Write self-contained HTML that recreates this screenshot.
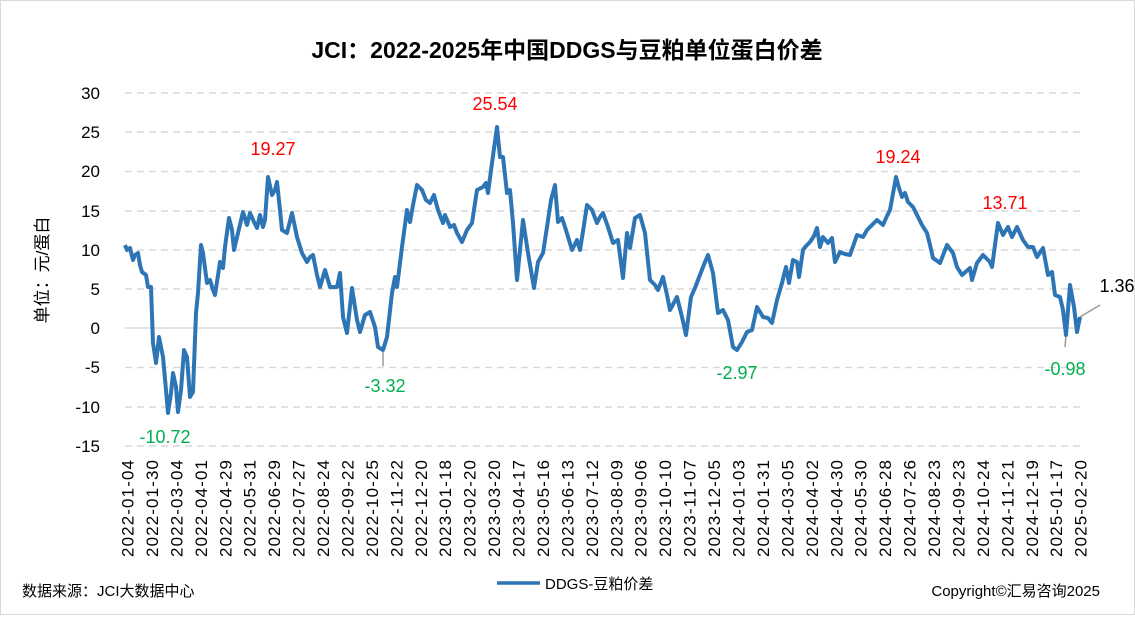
<!DOCTYPE html>
<html><head><meta charset="utf-8"><style>
body{margin:0;background:#fff}
svg text{font-family:"Liberation Sans","Noto Sans CJK SC",sans-serif}
</style></head><body>
<svg width="1135" height="615" viewBox="0 0 1135 615" xmlns="http://www.w3.org/2000/svg">
<rect x="0.5" y="0.5" width="1134" height="614" fill="#fff" stroke="#d9d9d9"/>
<text x="567" y="58" text-anchor="middle" font-size="23" font-weight="bold" fill="#000">JCI：2022-2025年中国DDGS与豆粕单位蛋白价差</text>
<g stroke="#d9d9d9" stroke-width="1.5" stroke-dasharray="7,5">
<line x1="125" y1="93" x2="1080" y2="93"/><line x1="125" y1="132" x2="1080" y2="132"/>
<line x1="125" y1="171.5" x2="1080" y2="171.5"/><line x1="125" y1="211" x2="1080" y2="211"/>
<line x1="125" y1="250" x2="1080" y2="250"/><line x1="125" y1="289" x2="1080" y2="289"/>
<line x1="125" y1="367.5" x2="1080" y2="367.5"/><line x1="125" y1="407" x2="1080" y2="407"/>
<line x1="125" y1="446" x2="1080" y2="446"/>
</g>
<line x1="125" y1="328" x2="1080" y2="328" stroke="#d9d9d9" stroke-width="1.5"/>
<g font-size="17" fill="#000" text-anchor="end">
<text x="100" y="99">30</text><text x="100" y="138">25</text><text x="100" y="177">20</text><text x="100" y="217">15</text><text x="100" y="256">10</text><text x="100" y="295">5</text><text x="100" y="334">0</text><text x="100" y="373">-5</text><text x="100" y="413">-10</text><text x="100" y="452">-15</text>
</g>
<text transform="translate(48,270) rotate(-90)" text-anchor="middle" font-size="17">单位：元/蛋白</text>
<g font-size="17" fill="#000" text-anchor="end">
<text transform="translate(133.5,460) rotate(-90)" textLength="97" lengthAdjust="spacing">2022-01-04</text>
<text transform="translate(157.9,460) rotate(-90)" textLength="97" lengthAdjust="spacing">2022-01-30</text>
<text transform="translate(182.4,460) rotate(-90)" textLength="97" lengthAdjust="spacing">2022-03-04</text>
<text transform="translate(206.8,460) rotate(-90)" textLength="97" lengthAdjust="spacing">2022-04-01</text>
<text transform="translate(231.3,460) rotate(-90)" textLength="97" lengthAdjust="spacing">2022-04-29</text>
<text transform="translate(255.7,460) rotate(-90)" textLength="97" lengthAdjust="spacing">2022-05-31</text>
<text transform="translate(280.1,460) rotate(-90)" textLength="97" lengthAdjust="spacing">2022-06-29</text>
<text transform="translate(304.6,460) rotate(-90)" textLength="97" lengthAdjust="spacing">2022-07-27</text>
<text transform="translate(329.0,460) rotate(-90)" textLength="97" lengthAdjust="spacing">2022-08-24</text>
<text transform="translate(353.5,460) rotate(-90)" textLength="97" lengthAdjust="spacing">2022-09-22</text>
<text transform="translate(377.9,460) rotate(-90)" textLength="97" lengthAdjust="spacing">2022-10-25</text>
<text transform="translate(402.3,460) rotate(-90)" textLength="97" lengthAdjust="spacing">2022-11-22</text>
<text transform="translate(426.8,460) rotate(-90)" textLength="97" lengthAdjust="spacing">2022-12-20</text>
<text transform="translate(451.2,460) rotate(-90)" textLength="97" lengthAdjust="spacing">2023-01-18</text>
<text transform="translate(475.7,460) rotate(-90)" textLength="97" lengthAdjust="spacing">2023-02-20</text>
<text transform="translate(500.1,460) rotate(-90)" textLength="97" lengthAdjust="spacing">2023-03-20</text>
<text transform="translate(524.5,460) rotate(-90)" textLength="97" lengthAdjust="spacing">2023-04-17</text>
<text transform="translate(549.0,460) rotate(-90)" textLength="97" lengthAdjust="spacing">2023-05-16</text>
<text transform="translate(573.4,460) rotate(-90)" textLength="97" lengthAdjust="spacing">2023-06-13</text>
<text transform="translate(597.9,460) rotate(-90)" textLength="97" lengthAdjust="spacing">2023-07-12</text>
<text transform="translate(622.3,460) rotate(-90)" textLength="97" lengthAdjust="spacing">2023-08-09</text>
<text transform="translate(646.7,460) rotate(-90)" textLength="97" lengthAdjust="spacing">2023-09-06</text>
<text transform="translate(671.2,460) rotate(-90)" textLength="97" lengthAdjust="spacing">2023-10-10</text>
<text transform="translate(695.6,460) rotate(-90)" textLength="97" lengthAdjust="spacing">2023-11-07</text>
<text transform="translate(720.1,460) rotate(-90)" textLength="97" lengthAdjust="spacing">2023-12-05</text>
<text transform="translate(744.5,460) rotate(-90)" textLength="97" lengthAdjust="spacing">2024-01-03</text>
<text transform="translate(768.9,460) rotate(-90)" textLength="97" lengthAdjust="spacing">2024-01-31</text>
<text transform="translate(793.4,460) rotate(-90)" textLength="97" lengthAdjust="spacing">2024-03-05</text>
<text transform="translate(817.8,460) rotate(-90)" textLength="97" lengthAdjust="spacing">2024-04-02</text>
<text transform="translate(842.3,460) rotate(-90)" textLength="97" lengthAdjust="spacing">2024-04-30</text>
<text transform="translate(866.7,460) rotate(-90)" textLength="97" lengthAdjust="spacing">2024-05-30</text>
<text transform="translate(891.1,460) rotate(-90)" textLength="97" lengthAdjust="spacing">2024-06-28</text>
<text transform="translate(915.6,460) rotate(-90)" textLength="97" lengthAdjust="spacing">2024-07-26</text>
<text transform="translate(940.0,460) rotate(-90)" textLength="97" lengthAdjust="spacing">2024-08-23</text>
<text transform="translate(964.5,460) rotate(-90)" textLength="97" lengthAdjust="spacing">2024-09-23</text>
<text transform="translate(988.9,460) rotate(-90)" textLength="97" lengthAdjust="spacing">2024-10-24</text>
<text transform="translate(1013.3,460) rotate(-90)" textLength="97" lengthAdjust="spacing">2024-11-21</text>
<text transform="translate(1037.8,460) rotate(-90)" textLength="97" lengthAdjust="spacing">2024-12-19</text>
<text transform="translate(1062.2,460) rotate(-90)" textLength="97" lengthAdjust="spacing">2025-01-17</text>
<text transform="translate(1086.5,460) rotate(-90)" textLength="97" lengthAdjust="spacing">2025-02-20</text>
</g>
<g stroke="#999" stroke-width="1.5" fill="none">
<line x1="383" y1="350" x2="383" y2="366"/><line x1="1066" y1="335" x2="1065" y2="347"/><line x1="1080" y1="317" x2="1100" y2="305"/>
</g>
<polyline fill="none" stroke="#2e75b6" stroke-width="4" stroke-linejoin="round" points="125,245 127,250 130,248 133,260 135,255 138,253 140,265 142,272 146,275 148,287 151,287 153,343 156,363 159,337 163,357 166,390 168,413 171,393 173,373 176,387 178,412 181,390 184,350 187,357 190,397 193,392 196,313 198,293 201,245 203,253 207,283 210,280 213,290 215,295 220,262 223,268 225,247 229,218 232,230 234,250 238,233 243,212 247,225 250,213 254,222 257,228 260,215 263,227 265,220 268,177 272,195 275,190 277,182 280,210 282,230 287,233 292,213 297,237 302,253 307,262 310,257 313,255 317,275 320,287 325,270 330,287 337,287 340,273 343,317 347,333 352,288 357,320 360,332 365,315 370,312 375,327 378,347 383,350 387,337 392,293 395,277 397,287 402,247 407,210 410,222 413,205 417,185 422,190 426,200 430,203 434,195 438,210 443,223 445,215 450,227 454,225 457,233 462,242 467,230 472,223 477,190 483,187 486,183 488,193 492,163 497,127 500,157 503,157 507,193 510,190 513,223 517,280 523,220 528,253 534,288 538,262 543,253 547,227 551,200 555,185 558,222 562,218 565,227 569,240 572,250 577,240 580,250 584,225 587,205 592,210 597,223 600,217 603,213 608,227 613,243 618,240 623,278 627,233 630,248 635,218 640,215 645,233 650,280 655,285 658,290 663,277 667,295 670,310 677,297 682,317 686,335 691,297 695,288 698,280 705,262 708,255 713,273 718,313 723,310 728,320 733,347 737,350 742,342 747,332 752,330 757,307 760,312 763,317 768,318 772,323 777,300 782,283 786,267 789,283 793,260 797,262 799,277 803,250 806,246 810,242 814,236 817,228 820,247 823,237 828,243 832,238 835,262 840,252 845,254 850,255 857,235 863,237 867,230 870,227 877,220 883,225 887,216 890,210 896,177 899,188 902,197 905,193 908,202 913,207 918,217 922,225 927,233 930,245 933,258 940,263 947,245 953,253 957,267 962,275 970,268 972,280 977,263 983,255 990,262 992,267 998,223 1003,235 1008,227 1012,237 1017,227 1023,240 1028,247 1033,247 1037,257 1043,248 1048,275 1052,272 1055,295 1060,297 1063,310 1066,335 1070,285 1074,307 1077,332 1080,317"/>
<g font-size="18" text-anchor="middle">
<text x="273" y="155" fill="#ff0000">19.27</text><text x="495" y="110" fill="#ff0000">25.54</text>
<text x="898" y="163" fill="#ff0000">19.24</text><text x="1005" y="209" fill="#ff0000">13.71</text>
<text x="165" y="443" fill="#00b050">-10.72</text><text x="385" y="392" fill="#00b050">-3.32</text>
<text x="737" y="379" fill="#00b050">-2.97</text><text x="1065" y="375" fill="#00b050">-0.98</text>
<text x="1117" y="292" fill="#000">1.36</text>
</g>
<line x1="497" y1="583" x2="540" y2="583" stroke="#2e75b6" stroke-width="3.5"/>
<text x="545" y="589" font-size="15">DDGS-豆粕价差</text>
<text x="22" y="596" font-size="15">数据来源：JCI大数据中心</text>
<text x="1100" y="596" font-size="15" text-anchor="end">Copyright©汇易咨询2025</text>
</svg>
</body></html>
